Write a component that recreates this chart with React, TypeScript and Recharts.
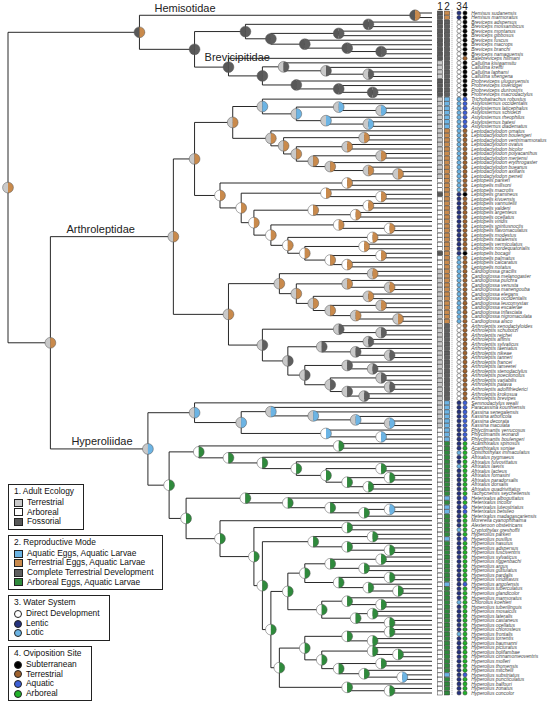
import React from 'react';
import { ComposedChart, XAxis, YAxis, Scatter, ReferenceLine } from 'recharts';

// ---------------- tip names (top to bottom) ----------------
const hemisotidaeNames = ['Hemisus sudanensis', 'Hemisus marmoratus'];
const brevicipitidaeNames = [
  'Breviceps adspersus', 'Breviceps mossambicus', 'Breviceps montanus', 'Breviceps gibbosus',
  'Breviceps fuscus', 'Breviceps macrops', 'Breviceps branchi', 'Breviceps namaquensis',
  'Balebreviceps hillmani', 'Callulina kisiwamsitu', 'Callulina kreffti', 'Callulina laphami',
  'Callulina shengena', 'Probreviceps uluguruensis', 'Probreviceps loveridgei',
  'Probreviceps durirostris', 'Probreviceps macrodactylus',
];
const astylosterninaeNames = [
  'Trichobatrachus robustus', 'Astylosternus occidentalis', 'Astylosternus laticephalus',
  'Astylosternus schioetzi', 'Astylosternus rheophilus', 'Astylosternus batesi',
  'Astylosternus diadematus', 'Leptodactylodon ornatus', 'Leptodactylodon boulengeri',
  'Leptodactylodon ventrimarmoratus', 'Leptodactylodon ovatus', 'Leptodactylodon bicolor',
  'Leptodactylodon polyacanthus', 'Leptodactylodon mertensi', 'Leptodactylodon erythrogaster',
  'Leptodactylodon bueanus', 'Leptodactylodon axillaris', 'Leptodactylodon perreti',
];
const leptopelisNames = [
  'Leptopelis parkeri', 'Leptopelis millsoni', 'Leptopelis macrotis', 'Leptopelis gramineus',
  'Leptopelis kivuensis', 'Leptopelis vannutellii', 'Leptopelis yaldeni', 'Leptopelis argenteus',
  'Leptopelis ocellatus', 'Leptopelis viridis', 'Leptopelis spiritusnoctis',
  'Leptopelis flavomaculatus', 'Leptopelis modestus', 'Leptopelis natalensis',
  'Leptopelis vermiculatus', 'Leptopelis nordequatorialis', 'Leptopelis bocagii',
  'Leptopelis palmatus', 'Leptopelis calcaratus', 'Leptopelis notatus',
];
const cardioglossaNames = [
  'Cardioglossa gracilis', 'Cardioglossa melanogaster', 'Cardioglossa pulchra',
  'Cardioglossa venusta', 'Cardioglossa manengouba', 'Cardioglossa elegans',
  'Cardioglossa occidentalis', 'Cardioglossa leucomystax', 'Cardioglossa escalerae',
  'Cardioglossa trifasciata', 'Cardioglossa nigromaculata', 'Cardioglossa alsco',
];
const arthroleptisNames = [
  'Arthroleptis xenodactyloides', 'Arthroleptis schubotzi', 'Arthroleptis reichei',
  'Arthroleptis affinis', 'Arthroleptis sylvaticus', 'Arthroleptis taeniatus',
  'Arthroleptis nikeae', 'Arthroleptis tanneri', 'Arthroleptis francei', 'Arthroleptis lameerei',
  'Arthroleptis stenodactylus', 'Arthroleptis poecilonotus', 'Arthroleptis variabilis',
  'Arthroleptis palava', 'Arthroleptis adolfifriederici', 'Arthroleptis krokosua',
  'Arthroleptis brevipes',
];
const kassininaeNames = [
  'Semnodactylus wealii', 'Paracassina kounhiensis', 'Kassina senegalensis', 'Kassina arboricola',
  'Kassina decorata', 'Kassina maculata', 'Phlyctimantis verrucosus', 'Phlyctimantis leonardi',
  'Phlyctimantis boulengeri',
];
const hyperolinaeNames = [
  'Acanthixalus spinosus', 'Acanthixalus sonjae', 'Opisthothylax immaculatus',
  'Afrixalus pygmaeus', 'Afrixalus fulvovittatus', 'Afrixalus laevis', 'Afrixalus lacteus',
  'Afrixalus fornasini', 'Afrixalus paradorsalis', 'Afrixalus dorsalis',
  'Afrixalus quadrivittatus', 'Tachycnemis seychellensis', 'Heterixalus alboguttatus',
  'Heterixalus tricolor', 'Heterixalus luteostriatus', 'Heterixalus betsileo',
  'Heterixalus madagascariensis', 'Morerella cyanophthalma', 'Alexteroon obstetricans',
  'Cryptothylax greshoffii',
];
const hyperoliusNames = [
  'Hyperolius parkeri', 'Hyperolius pusillus', 'Hyperolius nasutus', 'Hyperolius adspersus',
  'Hyperolius fusciventris', 'Hyperolius sylvaticus', 'Hyperolius riggenbachi', 'Hyperolius argus',
  'Hyperolius guttulatus', 'Hyperolius pardalis', 'Hyperolius viridiflavus', 'Hyperolius angolensis',
  'Hyperolius tuberculatus', 'Hyperolius glandicolor', 'Hyperolius marmoratus', 'Chlorolius koehleri',
  'Hyperolius tuberilinguis', 'Hyperolius mosaicus', 'Hyperolius lateralis', 'Hyperolius castaneus',
  'Hyperolius ocellatus', 'Hyperolius chlorosteus', 'Hyperolius frontalis', 'Hyperolius torrentis',
  'Hyperolius baumanni', 'Hyperolius picturatus', 'Hyperolius bolifambae',
  'Hyperolius cinnamomeoventris', 'Hyperolius molleri', 'Hyperolius thomensis',
  'Hyperolius mitchelli', 'Hyperolius substriatus', 'Hyperolius puncticulatus',
  'Hyperolius balfouri', 'Hyperolius zonatus', 'Hyperolius concolor',
];

// ---------------- tip character states ----------------
// 1 ecology: L terrestrial, W arboreal, F fossorial
// 2 reproduction: A aquatic eggs, T terrestrial eggs, D complete terrestrial, G arboreal eggs
// 3 water: D direct, N lentic, O lotic
// 4 oviposition: S subterranean, T terrestrial, A aquatic, G arboreal
const hemisotidaeTraits = ['FTNS', 'FTNS'];
const brevicipitidaeTraits = ['FDDS', 'FDDS', 'FDDS', 'FDDS', 'FDDS', 'FDDS', 'FDDS', 'FDDS', 'FDDT',
  'LDDS', 'LDDS', 'LDDS', 'LDDS', 'FDDS', 'FDDS', 'FDDS', 'FDDS'];
const astylosterninaeTraits = ['LAOA', 'LAOA', 'LAOA', 'LAOA', 'LAOA', 'LAOA', 'LAOA',
  'LTOT', 'LTOT', 'LTOT', 'LTOT', 'LTOT', 'LTOT', 'LTOT', 'LTOT', 'LTOT', 'LTOT', 'LTOT'];
const leptopelisTraits = ['WTOT', 'WTOT', 'WTOT', 'FTNS', 'WTNT', 'WTNT', 'WTNT', 'WTNT', 'WTNT',
  'WTNT', 'WTNT', 'WTNT', 'WTNT', 'WTNT', 'WTNT', 'WTNT', 'FTNS', 'WTOT', 'WTOT', 'WTOT'];
const cardioglossaTraits = ['LTOT', 'LTOT', 'LTOT', 'LTOT', 'LTOT', 'LTOT', 'LTOT', 'LTOT', 'LTOT',
  'LTOT', 'LTOT', 'LTOT'];
const arthroleptisTraits = ['LDDT', 'LDDT', 'LDDT', 'LDDT', 'LDDT', 'LDDT', 'LDDT', 'LDDT', 'LDDT',
  'LDDT', 'LDDT', 'LDDT', 'LDDT', 'LDDT', 'LDDT', 'LDDT', 'LDDT'];
const kassininaeTraits = ['LANA', 'LANA', 'LANA', 'LANA', 'LANA', 'LANA', 'WANA', 'WANA', 'WANA'];
const hyperolinaeTraits = ['WGNG', 'WGNG', 'WGOG', 'WGNG', 'WGNG', 'WGOG', 'WGNG', 'WGNG', 'WGNG',
  'WGNG', 'WGNG', 'WGNG', 'WANA', 'WGNG', 'WANA', 'WANA', 'WGNG', 'WGNG', 'WGNG', 'WGOG'];
const hyperoliusTraits = ['WGNG', 'WANA', 'WGNG', 'WGNG', 'WGNG', 'WGNG', 'WGNG', 'WGNG', 'WGNG',
  'WGNG', 'WGNG', 'WANA', 'WGNG', 'WGNG', 'WGNG', 'WGOG', 'WGNG', 'WGNG', 'WGNG', 'WGNG', 'WGNG',
  'WGNG', 'WGOG', 'WGNG', 'WGNG', 'WGNG', 'WGNG', 'WGNG', 'WGNG', 'WGNG', 'WGNG', 'WANA', 'WGNG',
  'WGNG', 'WGNG', 'WGNG'];

// ---------------- topology (tip numbers; node label = depth + ancestral ecology + reproduction) ----------------
const hemisotidaeTree = '(1,2)96FT';
const brevicepsTree = '((3,4)85FD,((5,6)78FD,(7,(8,(9,10)88FD)80FD)70FD)62FD)56FD';
const probrevicepsTree = '(11,((12,(13,(14,15)85LD)75LD)65LD,(16,(17,(18,19)86FD)78FD)68FD)60FD)52FD';
const astylosterninaeTree = '((20,((21,(22,23)88LA)78LA,(24,(25,26)85LA)75LA)68LA)60LA,' +
  '(27,((28,29)84LT,((30,31)80LT,((32,33)88LT,(34,(35,(36,37)92LT)85LT)76LT)72LT)68LT)65LT)62LT)53LT';
const leptopelisTree = '((38,39)80WT,((40,(41,42)88WT)75WT,(((43,44)85WT,(45,46)82WT)72WT,' +
  '((47,(48,49)90WT)78WT,((50,51)86WT,((52,53)84WT,((54,55)88WT,(56,57)80WT)76WT)70WT)66WT)62WT)58WT)55WT)50WT';
const cardioglossaTree = '((58,59)86LT,((60,(61,62)90LT)80LT,((63,64)85LT,((65,66)88LT,(67,(68,69)92LT)82LT)76LT)72LT)68LT)64LT';
const arthroleptisTree = '((70,(71,72)88LD)78LD,(((73,74)85LD,(75,(76,77)90LD)82LD)74LD,' +
  '((78,(79,80)86LD)80LD,((81,82)88LD,((83,84)90LD,(85,86)84LD)80LD)76LD)70LD)66LD)60LD';
const kassininaeTree = '(87,((88,(89,(90,(91,92)90LA)82LA)72LA)62LA,(93,(94,95)88WA)75WA)55LA)44LA';
const acanthixalusTree = '(96,97)78WG';
const afrixalusTree = '(98,(99,(100,((101,102)88WG,((103,104)90WG,(105,106)85WG)80WG)75WG)68WG)60WG)52WG';
const heterixalusTree = '(107,(108,(109,((110,111)90WA,112)84WG)76WG)66WG)56WG';
const hyperoliusTree = '(((116,117)86WG,(118,(119,120)90WG)80WG)72WG,' +
  '(((((121,122)88WG,(123,124)84WG)76WG,((125,126)90WG,(127,(128,129)92WG)85WG)78WG)70WG,' +
  '((130,(131,132)88WG)80WG,((133,134)86WG,(135,136)90WG)82WG)74WG)66WG,' +
  '((((137,138)90WG,(139,140)86WG)80WG,((141,(142,143)92WG)86WG,((144,145)88WG,(146,(147,148)93WA)84WG)78WG)74WG)70WG,' +
  '(149,(150,151)90WG)80WG)64WG)62WG)60WG';

const hyperolinaeTree = `((${acanthixalusTree},${afrixalusTree})45WG,(${heterixalusTree},(113,((114,115)80WG,${hyperoliusTree})58WG)50WG)42WG)38WG`;
const hbTree = `(${hemisotidaeTree},(${brevicepsTree},${probrevicepsTree})44FD)31FT`;
const arthroleptidaeTree = `((${astylosterninaeTree},${leptopelisTree})44LT,(${cardioglossaTree},${arthroleptisTree})52LT)39LT`;
const hyperoliidaeTree = `(${kassininaeTree},${hyperolinaeTree})33LA`;
const fullTree = `(${hbTree},(${arthroleptidaeTree},${hyperoliidaeTree})10LT)0LT`;

const familyLabels = [
  { name: 'Hemisotidae', first: 1, last: 2, dx: 15, dy: -3.5, fromParent: true },
  { name: 'Brevicipitidae', first: 3, last: 19, dx: 10, dy: 12, fromParent: false },
  { name: 'Arthroleptidae', first: 20, last: 86, dx: 16, dy: -4, fromParent: true },
  { name: 'Hyperoliidae', first: 87, last: 151, dx: 21, dy: -4, fromParent: true },
];

const ecoLegend = [['Terrestrial', 'L'], ['Arboreal', 'W'], ['Fossorial', 'F']];
const repLegend = [['Aquatic Eggs, Aquatic Larvae', 'A'], ['Terrestrial Eggs, Aquatic Larvae', 'T'],
  ['Complete Terrestrial Development', 'D'], ['Arboreal Eggs, Aquatic Larvae', 'G']];
const waterLegend = [['Direct Development', 'D'], ['Lentic', 'N'], ['Lotic', 'O']];
const oviLegend = [['Subterranean', 'S'], ['Terrestrial', 'T'], ['Aquatic', 'A'], ['Arboreal', 'G']];
const headerLabels = ['1', '2', '3', '4'];

// ---------------- styles ----------------
const ECO: Record<string, string> = { L: '#c9c9c9', W: '#ffffff', F: '#585858' };
const REP: Record<string, string> = { A: '#6cb4e4', T: '#c98a4c', D: '#5e5e5e', G: '#2f8a3c' };
const WATER: Record<string, string> = { D: '#ffffff', N: '#26337f', O: '#6cb4e4' };
const OVI: Record<string, string> = { S: '#000000', T: '#a0622d', A: '#3d5fd6', G: '#22b32a' };

const W = 548;
const H = 701;
const PX_PER_UNIT = 4.24;
const XMAX = (W - 8) / PX_PER_UNIT;
const COLS = [101.89, 103.54, 106.37, 107.78];
const DOT_X = 104.72;
const LABEL_X = 109.25;

// ---------------- build tree ----------------
type TNode = { depth: number; eco: string; rep: string; tip: number; children: TNode[]; y: number; parent: TNode | null; lo: number; hi: number };

function parseNewick(src: string): TNode {
  const s = src.replace(/\s+/g, '');
  let i = 0;
  const read = (parent: TNode | null): TNode => {
    const node: TNode = { depth: 100, eco: '', rep: '', tip: 0, children: [], y: 0, parent, lo: 0, hi: 0 };
    if (s[i] === '(') {
      i++;
      node.children.push(read(node));
      while (s[i] === ',') { i++; node.children.push(read(node)); }
      if (s[i] !== ')') throw new Error('newick ) expected at ' + i);
      i++;
      const m = /^(\d+(?:\.\d+)?)([A-Z])([A-Z])/.exec(s.slice(i));
      if (!m) throw new Error('newick label expected at ' + i);
      i += m[0].length;
      node.depth = +m[1]; node.eco = m[2]; node.rep = m[3];
    } else {
      const m = /^\d+/.exec(s.slice(i));
      if (!m) throw new Error('newick tip expected at ' + i);
      i += m[0].length;
      node.tip = +m[0];
    }
    return node;
  };
  return read(null);
}

const root = parseNewick(fullTree);
const allNodes: TNode[] = [];
(function layout(n: TNode) {
  allNodes.push(n);
  if (n.tip) { n.y = n.tip; n.lo = n.tip; n.hi = n.tip; return; }
  n.children.forEach(layout);
  n.y = (n.children[0].y + n.children[n.children.length - 1].y) / 2;
  n.lo = Math.min(...n.children.map((c) => c.lo));
  n.hi = Math.max(...n.children.map((c) => c.hi));
})(root);

const names = [...hemisotidaeNames, ...brevicipitidaeNames, ...astylosterninaeNames, ...leptopelisNames,
  ...cardioglossaNames, ...arthroleptisNames, ...kassininaeNames, ...hyperolinaeNames, ...hyperoliusNames];
const traits = [...hemisotidaeTraits, ...brevicipitidaeTraits, ...astylosterninaeTraits, ...leptopelisTraits,
  ...cardioglossaTraits, ...arthroleptisTraits, ...kassininaeTraits, ...hyperolinaeTraits, ...hyperoliusTraits];
const NTIPS = names.length;

const segments: { x1: number; y1: number; x2: number; y2: number }[] = [];
allNodes.forEach((n) => {
  if (n.parent) segments.push({ x1: n.parent.depth, y1: n.y, x2: n.depth, y2: n.y });
  if (n.children.length) segments.push({ x1: n.depth, y1: n.children[0].y, x2: n.depth, y2: n.children[n.children.length - 1].y });
});

const pieData = allNodes.filter((n) => !n.tip).map((n) => ({ x: n.depth, y: n.y, eco: n.eco, rep: n.rep }));
const tipData = names.map((name, i) => ({ x: LABEL_X, y: i + 1, name }));
const colData = COLS.map((cx, c) => names.map((_, i) => ({ x: cx, y: i + 1, s: (traits[i] || 'LDDS')[c] })));
const headerData = headerLabels.map((t, i) => ({ x: COLS[i], y: 0, t }));
const famData = familyLabels.map((f) => {
  const node = allNodes.find((n) => !n.tip && n.lo === f.first && n.hi === f.last) || root;
  const anchor = f.fromParent && node.parent ? node.parent.depth : node.depth;
  return { x: anchor, y: node.y, name: f.name, dx: f.dx, dy: f.dy };
});

// ---------------- shapes ----------------
const PieShape = (p: any) => {
  const { cx, cy, payload } = p;
  if (cx == null || cy == null) return null;
  const r = 5.4;
  return (
    <g>
      <path d={`M${cx},${cy - r} A${r},${r} 0 0 0 ${cx},${cy + r} Z`} fill={ECO[payload.eco]} />
      <path d={`M${cx},${cy - r} A${r},${r} 0 0 1 ${cx},${cy + r} Z`} fill={REP[payload.rep]} />
      <circle cx={cx} cy={cy} r={r} fill="none" stroke="#555" strokeWidth={0.5} />
    </g>
  );
};

const makeCell = (col: number) => (p: any) => {
  const { cx, cy, payload } = p;
  if (cx == null || cy == null) return null;
  if (col < 2) {
    const fill = col === 0 ? ECO[payload.s] : REP[payload.s];
    return <rect x={cx - 2.7} y={cy - 2} width={5.4} height={4} fill={fill} stroke="#333" strokeWidth={0.45} />;
  }
  const fill = col === 2 ? WATER[payload.s] : OVI[payload.s];
  return <circle cx={cx} cy={cy} r={2.1} fill={fill} stroke="#222" strokeWidth={0.45} />;
};
const cellShapes = [makeCell(0), makeCell(1), makeCell(2), makeCell(3)];

const TipLabel = (p: any) => {
  const { cx, cy, payload } = p;
  if (cx == null || cy == null) return null;
  return (
    <text x={cx} y={cy + 1.7} fontSize={4.9} fontStyle="italic" fill="#444" fontFamily="Liberation Sans, Arial, sans-serif">
      {payload.name}
    </text>
  );
};

const HeaderLabel = (p: any) => {
  const { cx, cy, payload } = p;
  if (cx == null || cy == null) return null;
  return (
    <text x={cx} y={cy + 1.5} fontSize={10} textAnchor="middle" fill="#222" fontFamily="Liberation Sans, Arial, sans-serif">
      {payload.t}
    </text>
  );
};

const FamilyLabel = (p: any) => {
  const { cx, cy, payload } = p;
  if (cx == null || cy == null) return null;
  return (
    <text x={cx + payload.dx} y={cy + payload.dy} fontSize={11} fill="#222" fontFamily="Liberation Sans, Arial, sans-serif">
      {payload.name}
    </text>
  );
};

// ---------------- legend ----------------
const boxStyle: React.CSSProperties = {
  border: '1px solid #222', background: '#fff', padding: '2px 9px 2px 5px', marginBottom: 5,
  fontFamily: 'Liberation Sans, Arial, sans-serif', fontSize: 8.4, color: '#111', lineHeight: '9.6px',
  display: 'inline-block', alignSelf: 'flex-start',
};
const rowStyle: React.CSSProperties = { display: 'flex', alignItems: 'center', gap: 4, height: 9.6 };

function LegendBox({ title, items, colors, round }: { title: string; items: string[][]; colors: Record<string, string>; round: boolean }) {
  return (
    <div style={boxStyle}>
      <div style={{ height: 11 }}>{title}</div>
      {items.map(([label, key]) => (
        <div key={label} style={rowStyle}>
          <span style={{
            display: 'inline-block', width: round ? 8 : 9, height: 8, background: colors[key],
            border: '0.8px solid #222', borderRadius: round ? '50%' : 0, boxSizing: 'border-box',
          }} />
          <span>{label}</span>
        </div>
      ))}
    </div>
  );
}

export default function App() {
  return (
    <div style={{ position: 'fixed', left: 0, top: 0, width: W, height: H, background: '#fff', overflow: 'hidden' }}>
      <ComposedChart width={W} height={H} margin={{ top: 8.47, right: 0, bottom: 8, left: 8 }}>
        <XAxis type="number" dataKey="x" domain={[0, XMAX]} hide />
        <YAxis type="number" dataKey="y" domain={[0, NTIPS]} reversed hide />
        {segments.map((s, i) => (
          <ReferenceLine key={'b' + i} segment={[{ x: s.x1, y: s.y1 }, { x: s.x2, y: s.y2 }]}
            stroke="#111" strokeWidth={0.9} ifOverflow="visible" />
        ))}
        <ReferenceLine segment={[{ x: DOT_X, y: 0.3 }, { x: DOT_X, y: NTIPS + 0.6 }]} stroke="#777"
          strokeWidth={0.8} strokeDasharray="0.8 1.2" ifOverflow="visible" />
        <Scatter data={pieData} dataKey="y" shape={PieShape} isAnimationActive={false} />
        {colData.map((d, c) => (
          <Scatter key={'c' + c} data={d} dataKey="y" shape={cellShapes[c]} isAnimationActive={false} />
        ))}
        <Scatter data={tipData} dataKey="y" shape={TipLabel} isAnimationActive={false} />
        <Scatter data={headerData} dataKey="y" shape={HeaderLabel} isAnimationActive={false} />
        <Scatter data={famData} dataKey="y" shape={FamilyLabel} isAnimationActive={false} />
      </ComposedChart>
      <div style={{ position: 'absolute', left: 8, top: 484, display: 'flex', flexDirection: 'column' }}>
        <LegendBox title="1. Adult Ecology" items={ecoLegend} colors={ECO} round={false} />
        <LegendBox title="2. Reproductive Mode" items={repLegend} colors={REP} round={false} />
        <LegendBox title="3. Water System" items={waterLegend} colors={WATER} round={true} />
        <LegendBox title="4. Oviposition Site" items={oviLegend} colors={OVI} round={true} />
      </div>
    </div>
  );
}
